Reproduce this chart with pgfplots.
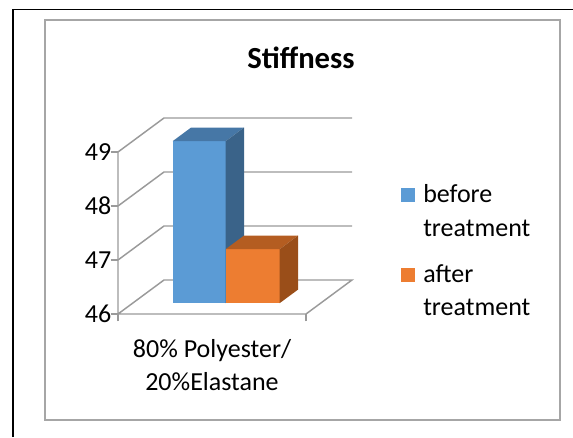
\documentclass[border=0pt]{standalone}
\usepackage{pgfplots}
\pgfplotsset{compat=1.18}
\usepackage{pgfplotstable}
\usepackage{fontspec}
\setmainfont{Carlito}

\definecolor{bluef}{HTML}{5B9BD5}
\definecolor{bluet}{HTML}{4677A6}
\definecolor{blues}{HTML}{3A6389}
\definecolor{orf}{HTML}{ED7D31}
\definecolor{ort}{HTML}{B45D21}
\definecolor{ors}{HTML}{9A4E19}
\definecolor{gridc}{HTML}{9A9A9A}
\definecolor{framec}{HTML}{A6A6A6}

% oblique projection: x + 46*d, v + 0.63*d  (d = depth, 0 front .. 1 back)
\pgfkeys{/pgfplots/table/proj/.style={/pgfplots/table/x expr=\thisrow{x}+46*\thisrow{d}, /pgfplots/table/y expr=\thisrow{v}+0.63*\thisrow{d}, /pgfplots/table/row sep=\\}}
\newcommand{\bodyfont}{\fontsize{19.5}{25}\selectfont}

\begin{document}
\begin{tikzpicture}
% page frame in pixel coordinates of the reference (573 x 437)
\begin{scope}[x=0.75pt, y=-0.75pt, shift={(-88.5pt,235.5pt)}]
\draw[black, line width=1.2pt] (13,437) -- (13,9.5) -- (573,9.5);
\draw[framec, line width=1.1pt] (45,20) rectangle (560,420);
\node[anchor=base, font=\fontsize{23}{28}\selectfont\bfseries] at (301,68) {Stiffness};
\end{scope}

\begin{axis}[
  at={(0,0)}, anchor=south west,
  x=0.75pt, y=40.5pt,
  xmin=0, xmax=234, ymin=46, ymax=49.63,
  axis line style={draw=none},
  clip=false,
  ytick={46,47,48,49},
  ytick pos=left, xtick pos=bottom,
  tick align=outside,
  major tick length=5.5pt,
  tick style={gridc, line width=1.1pt},
  xtick={0,188}, xticklabels={,},
  extra x ticks={94},
  extra x tick labels={80\% Polyester/\\20\%Elastane},
  extra x tick style={major tick length=0pt},
  xticklabel style={align=center, font=\bodyfont, yshift=-15.5pt},
  yticklabel style={font=\bodyfont, xshift=4pt},
  /pgf/number format/assume math mode=true,
  legend image code/.code={\fill[#1] (0pt,7pt) rectangle (10.5pt,17.5pt);},
  legend style={at={(axis cs:283,48.45)}, anchor=north west, draw=none, fill=none,
    inner sep=0pt, row sep=16pt, column sep=4pt, font=\bodyfont,
    cells={align=left, inner sep=0pt}},
]
% walls and floor
\addplot[gridc, line width=1.1pt, forget plot] table[proj] {x v d\\ 0 49 0\\ 0 49 1\\ 188 49 1\\};
\addplot[gridc, line width=1.1pt, forget plot] table[proj] {x v d\\ 0 48 0\\ 0 48 1\\ 188 48 1\\};
\addplot[gridc, line width=1.1pt, forget plot] table[proj] {x v d\\ 0 47 0\\ 0 47 1\\ 188 47 1\\};
\addplot[gridc, line width=1.1pt, forget plot] table[proj] {x v d\\ 0 49 0\\ 0 46 0\\ 0 46 1\\ 188 46 1\\ 188 46 0\\ 0 46 0\\};

% before treatment = 49
\addplot[fill=bluef, draw=none] table[proj] {x v d\\ 40 46 0.32\\ 93 46 0.32\\ 93 49 0.32\\ 40 49 0.32\\};
\addlegendentry{before\\treatment}
\addplot[fill=bluet, draw=none, forget plot] table[proj] {x v d\\ 40 49 0.32\\ 93 49 0.32\\ 93 49 0.72\\ 40 49 0.72\\};
\addplot[fill=blues, draw=none, forget plot] table[proj] {x v d\\ 93 46 0.32\\ 93 49 0.32\\ 93 49 0.72\\ 93 46 0.72\\};

% after treatment = 47
\addplot[fill=orf, draw=none] table[proj] {x v d\\ 93 46 0.32\\ 147 46 0.32\\ 147 47 0.32\\ 93 47 0.32\\};
\addlegendentry{after\\treatment}
\addplot[fill=ort, draw=none, forget plot] table[proj] {x v d\\ 93 47 0.32\\ 147 47 0.32\\ 147 47 0.72\\ 93 47 0.72\\};
\addplot[fill=ors, draw=none, forget plot] table[proj] {x v d\\ 147 46 0.32\\ 147 47 0.32\\ 147 47 0.72\\ 147 46 0.72\\};
\end{axis}

\pgfresetboundingbox
\path[use as bounding box] (-88.5pt,235.5pt) rectangle (341.25pt,-92.25pt);
\end{tikzpicture}
\end{document}
